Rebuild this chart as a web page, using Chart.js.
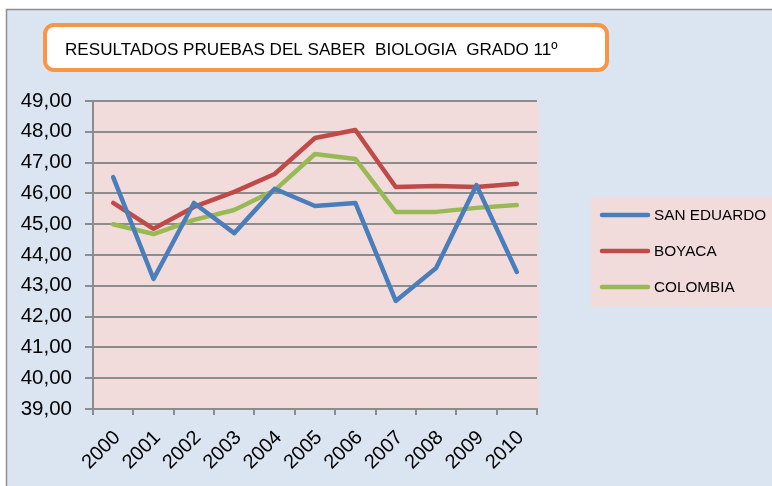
<!DOCTYPE html>
<html>
<head>
<meta charset="utf-8">
<script src="https://cdn.jsdelivr.net/npm/chart.js@4/dist/chart.umd.min.js"></script>
<style>
  html, body { margin: 0; padding: 0; background: #ffffff; }
  #wrap { width: 772px; height: 486px; position: relative; }
</style>
</head>
<body>
<div id="wrap"><canvas id="c" width="772" height="486"></canvas></div>
<script>
const titleText = 'RESULTADOS PRUEBAS DEL SABER  BIOLOGIA  GRADO 11º';
const categories = ['2000','2001','2002','2003','2004','2005','2006','2007','2008','2009','2010'];
const seriesNames = ['SAN EDUARDO', 'BOYACA', 'COLOMBIA'];
const sanEduardo = [46.53, 43.22, 45.69, 44.71, 46.15, 45.59, 45.69, 42.51, 43.58, 46.27, 43.45];
const boyaca     = [45.69, 44.85, 45.56, 46.05, 46.63, 47.80, 48.06, 46.21, 46.24, 46.21, 46.31];
const colombia   = [45.00, 44.68, 45.14, 45.46, 46.10, 47.28, 47.12, 45.40, 45.40, 45.53, 45.62];
const yMin = 39, yMax = 49, yStep = 1;

const colors = ['#4a7ebb', '#be4b48', '#98b954'];
const FONT = '"Liberation Sans", Arial, sans-serif';

const backgroundPlugin = {
  id: 'bg',
  beforeDraw(chart) {
    const ctx = chart.ctx;
    const a = chart.chartArea;
    ctx.save();
    ctx.fillStyle = '#ffffff';
    ctx.fillRect(0, 0, chart.width, chart.height);
    ctx.fillStyle = '#dbe5f1';
    ctx.fillRect(6, 9, chart.width - 6, chart.height - 9);
    ctx.strokeStyle = '#8e8e8e';
    ctx.lineWidth = 1.5;
    ctx.beginPath();
    ctx.moveTo(6.5, chart.height);
    ctx.lineTo(6.5, 9.5);
    ctx.lineTo(chart.width, 9.5);
    ctx.stroke();
    ctx.beginPath();
    ctx.roundRect(45, 25, 562, 45, 9);
    ctx.fillStyle = '#ffffff';
    ctx.fill();
    ctx.lineWidth = 4;
    ctx.strokeStyle = '#f79646';
    ctx.stroke();
    let fs = 17;
    ctx.font = fs + 'px ' + FONT;
    const w = ctx.measureText(titleText).width;
    fs = fs * 493 / w;
    ctx.font = fs + 'px ' + FONT;
    ctx.fillStyle = '#000000';
    ctx.textBaseline = 'alphabetic';
    ctx.textAlign = 'left';
    ctx.fillText(titleText, 65, 55);
    ctx.fillStyle = '#f2dcdb';
    ctx.fillRect(a.left, a.top, a.right - a.left + 2, a.bottom - a.top);
    ctx.fillRect(591, 197, chart.width - 591, 110);
    ctx.restore();
  },
  afterDraw(chart) {
    const ctx = chart.ctx;
    ctx.save();
    const rows = [215, 251, 287];
    chart.data.datasets.forEach((ds, i) => {
      const y = rows[i];
      ctx.strokeStyle = ds.borderColor;
      ctx.lineWidth = 4.5;
      ctx.lineCap = 'round';
      ctx.beginPath();
      ctx.moveTo(602, y);
      ctx.lineTo(648, y);
      ctx.stroke();
      ctx.fillStyle = '#000000';
      ctx.font = '15.3px ' + FONT;
      ctx.textBaseline = 'middle';
      ctx.textAlign = 'left';
      ctx.fillText(ds.label, 654, y + 1);
    });
    ctx.restore();
  }
};

const seriesData = [sanEduardo, boyaca, colombia];

new Chart(document.getElementById('c'), {
  type: 'line',
  data: {
    labels: categories,
    datasets: seriesData.map((d, i) => ({
      label: seriesNames[i],
      data: d,
      borderColor: colors[i],
      backgroundColor: colors[i],
      borderWidth: 4.5,
      pointRadius: 0,
      pointHoverRadius: 0,
      tension: 0,
      borderCapStyle: 'round',
      borderJoinStyle: 'round',
      fill: false
    }))
  },
  options: {
    responsive: false,
    animation: false,
    devicePixelRatio: 1,
    layout: { padding: { top: 101, right: 235, left: 0, bottom: 0 } },
    plugins: {
      legend: { display: false },
      title: { display: false },
      tooltip: { enabled: false }
    },
    scales: {
      x: {
        offset: true,
        afterFit(scale) { scale.height = 77; },
        grid: {
          offset: true,
          drawOnChartArea: false,
          drawTicks: true,
          tickLength: 6,
          color: '#8c8c8c',
          lineWidth: 2
        },
        border: { display: true, color: '#8c8c8c', width: 2 },
        ticks: {
          autoSkip: false,
          minRotation: 45,
          maxRotation: 45,
          color: '#000000',
          padding: 11,
          labelOffset: 4,
          font: { family: FONT, size: 20 }
        }
      },
      y: {
        min: yMin,
        max: yMax,
        afterFit(scale) { scale.width = 93; },
        grid: {
          color: '#8c8c8c',
          lineWidth: 2,
          drawTicks: true,
          tickLength: 8
        },
        border: { display: true, color: '#8c8c8c', width: 2 },
        ticks: {
          stepSize: yStep,
          color: '#000000',
          padding: 13,
          font: { family: FONT, size: 20.5 },
          callback: (v) => Number(v).toFixed(2).replace('.', ',')
        }
      }
    }
  },
  plugins: [backgroundPlugin]
});
</script>
</body>
</html>
